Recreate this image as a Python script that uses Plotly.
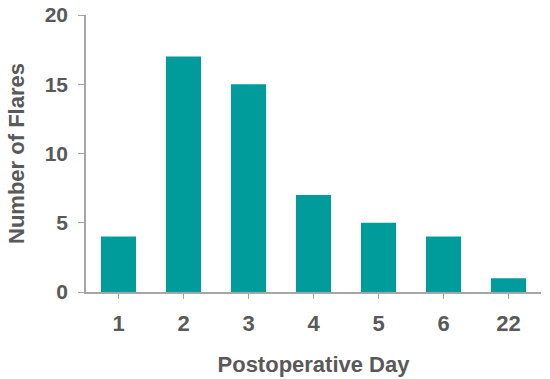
import plotly.graph_objects as go

days = ["1", "2", "3", "4", "5", "6", "22"]
flares = [4, 17, 15, 7, 5, 4, 1]
y_ticks = [0, 5, 10, 15, 20]

GRAY = "#595959"
AXIS_GRAY = "#a6a6a6"
FONT = "Liberation Sans, Arial, sans-serif"

fig = go.Figure(
    go.Bar(
        x=days,
        y=flares,
        marker={"color": "#009b9b", "line": {"width": 0}},
        width=0.54,
        hoverinfo="skip",
    )
)

fig.update_layout(
    width=550,
    height=379,
    margin={"l": 86, "r": 9, "t": 15, "b": 87},
    plot_bgcolor="white",
    paper_bgcolor="white",
    showlegend=False,
    font={"family": FONT, "color": GRAY, "weight": "bold"},
    xaxis={
        "type": "category",
        "automargin": False,
        "showline": True,
        "linecolor": AXIS_GRAY,
        "linewidth": 1.5,
        "ticks": "outside",
        "ticklen": 5,
        "tickcolor": AXIS_GRAY,
        "tickfont": {"size": 22, "family": FONT, "color": GRAY, "weight": "bold"},
        "ticklabelstandoff": 6,
        "title": {
            "text": "Postoperative Day",
            "font": {"size": 22, "family": FONT, "color": GRAY, "weight": "bold"},
            "standoff": 21,
        },
        "showgrid": False,
    },
    yaxis={
        "range": [0, 20],
        "automargin": False,
        "tickvals": y_ticks,
        "showline": True,
        "linecolor": AXIS_GRAY,
        "linewidth": 1.5,
        "ticks": "outside",
        "ticklen": 6,
        "tickcolor": AXIS_GRAY,
        "tickfont": {"size": 21, "family": FONT, "color": GRAY, "weight": "bold"},
        "ticklabelstandoff": 6,
        "title": {
            "text": "Number of Flares",
            "font": {"size": 22, "family": FONT, "color": GRAY, "weight": "bold"},
            "standoff": 14,
        },
        "showgrid": False,
        "zeroline": False,
    },
)

# the page body has an 8px default margin; drop it so the figure sits at 0,0
fig.write_html(
    "out.html",
    config={"displayModeBar": False},
    post_script="document.body.style.margin='0';",
)
